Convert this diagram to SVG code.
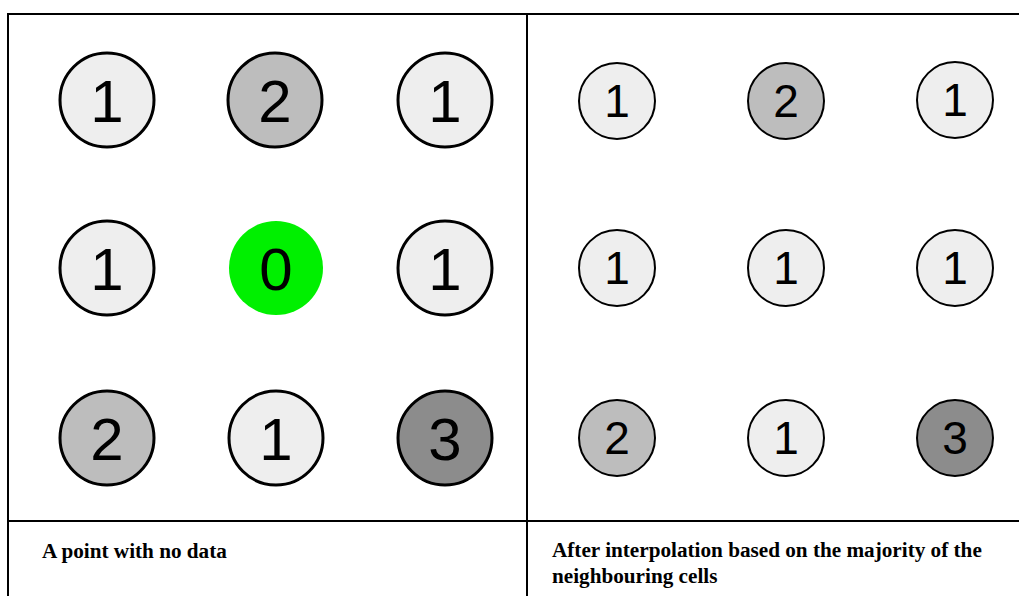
<svg xmlns="http://www.w3.org/2000/svg" width="1019" height="596" viewBox="0 0 1019 596">
<style>
.grid{stroke:#000;stroke-width:2;fill:none}
.big{stroke:#000;stroke-width:3}
.sm{stroke:#000;stroke-width:2}
.c1{fill:#eeeeee}.c2{fill:#bdbdbd}.c3{fill:#8c8c8c}.c0{fill:#00f000}
.dl{font-family:"Liberation Sans",Arial,sans-serif;font-size:60px;text-anchor:middle;fill:#000}
.ds{font-family:"Liberation Sans",Arial,sans-serif;font-size:46px;text-anchor:middle;fill:#000}
.cap{font-family:"Liberation Serif","Times New Roman",serif;font-weight:bold;font-size:21.2px;fill:#000}
</style>
<rect width="1019" height="596" fill="#fff"/>
<g id="table">
<line class="grid" x1="8" y1="14" x2="1019" y2="14"/>
<line class="grid" x1="8" y1="13" x2="8" y2="596"/>
<line class="grid" x1="527" y1="13" x2="527" y2="596"/>
<line class="grid" x1="8" y1="521" x2="1019" y2="521"/>
</g>
<g id="left">
<g id="L11"><circle class="big c1" cx="107" cy="100" r="47"/><text class="dl" x="107" y="122">1</text></g>
<g id="L12"><circle class="big c2" cx="275" cy="100" r="47"/><text class="dl" x="275" y="122">2</text></g>
<g id="L13"><circle class="big c1" cx="445" cy="100" r="47"/><text class="dl" x="445" y="122">1</text></g>
<g id="L21"><circle class="big c1" cx="107" cy="268" r="47"/><text class="dl" x="107" y="290">1</text></g>
<g id="L22"><circle class="c0" cx="276" cy="268" r="47"/><text class="dl" x="276" y="290">0</text></g>
<g id="L23"><circle class="big c1" cx="445" cy="268" r="47"/><text class="dl" x="445" y="290">1</text></g>
<g id="L31"><circle class="big c2" cx="107" cy="438" r="47"/><text class="dl" x="107" y="460">2</text></g>
<g id="L32"><circle class="big c1" cx="276" cy="438" r="47"/><text class="dl" x="276" y="460">1</text></g>
<g id="L33"><circle class="big c3" cx="445" cy="438" r="47"/><text class="dl" x="445" y="460">3</text></g>
</g>
<g id="right">
<g id="R11"><circle class="sm c1" cx="617" cy="101" r="38"/><text class="ds" x="617" y="117">1</text></g>
<g id="R12"><circle class="sm c2" cx="786" cy="101" r="38"/><text class="ds" x="786" y="117">2</text></g>
<g id="R13"><circle class="sm c1" cx="955" cy="100" r="38"/><text class="ds" x="955" y="116">1</text></g>
<g id="R21"><circle class="sm c1" cx="617" cy="268" r="38"/><text class="ds" x="617" y="284">1</text></g>
<g id="R22"><circle class="sm c1" cx="786" cy="268" r="38"/><text class="ds" x="786" y="284">1</text></g>
<g id="R23"><circle class="sm c1" cx="955" cy="268" r="38"/><text class="ds" x="955" y="284">1</text></g>
<g id="R31"><circle class="sm c2" cx="617" cy="438" r="38"/><text class="ds" x="617" y="454">2</text></g>
<g id="R32"><circle class="sm c1" cx="786" cy="438" r="38"/><text class="ds" x="786" y="454">1</text></g>
<g id="R33"><circle class="sm c3" cx="955" cy="438" r="38"/><text class="ds" x="955" y="454">3</text></g>
</g>
<g id="captions">
<text class="cap" x="42" y="558">A point with no data</text>
<text class="cap" x="552" y="557">After interpolation based on the majority of the</text>
<text class="cap" x="552" y="583">neighbouring cells</text>
</g>
</svg>
